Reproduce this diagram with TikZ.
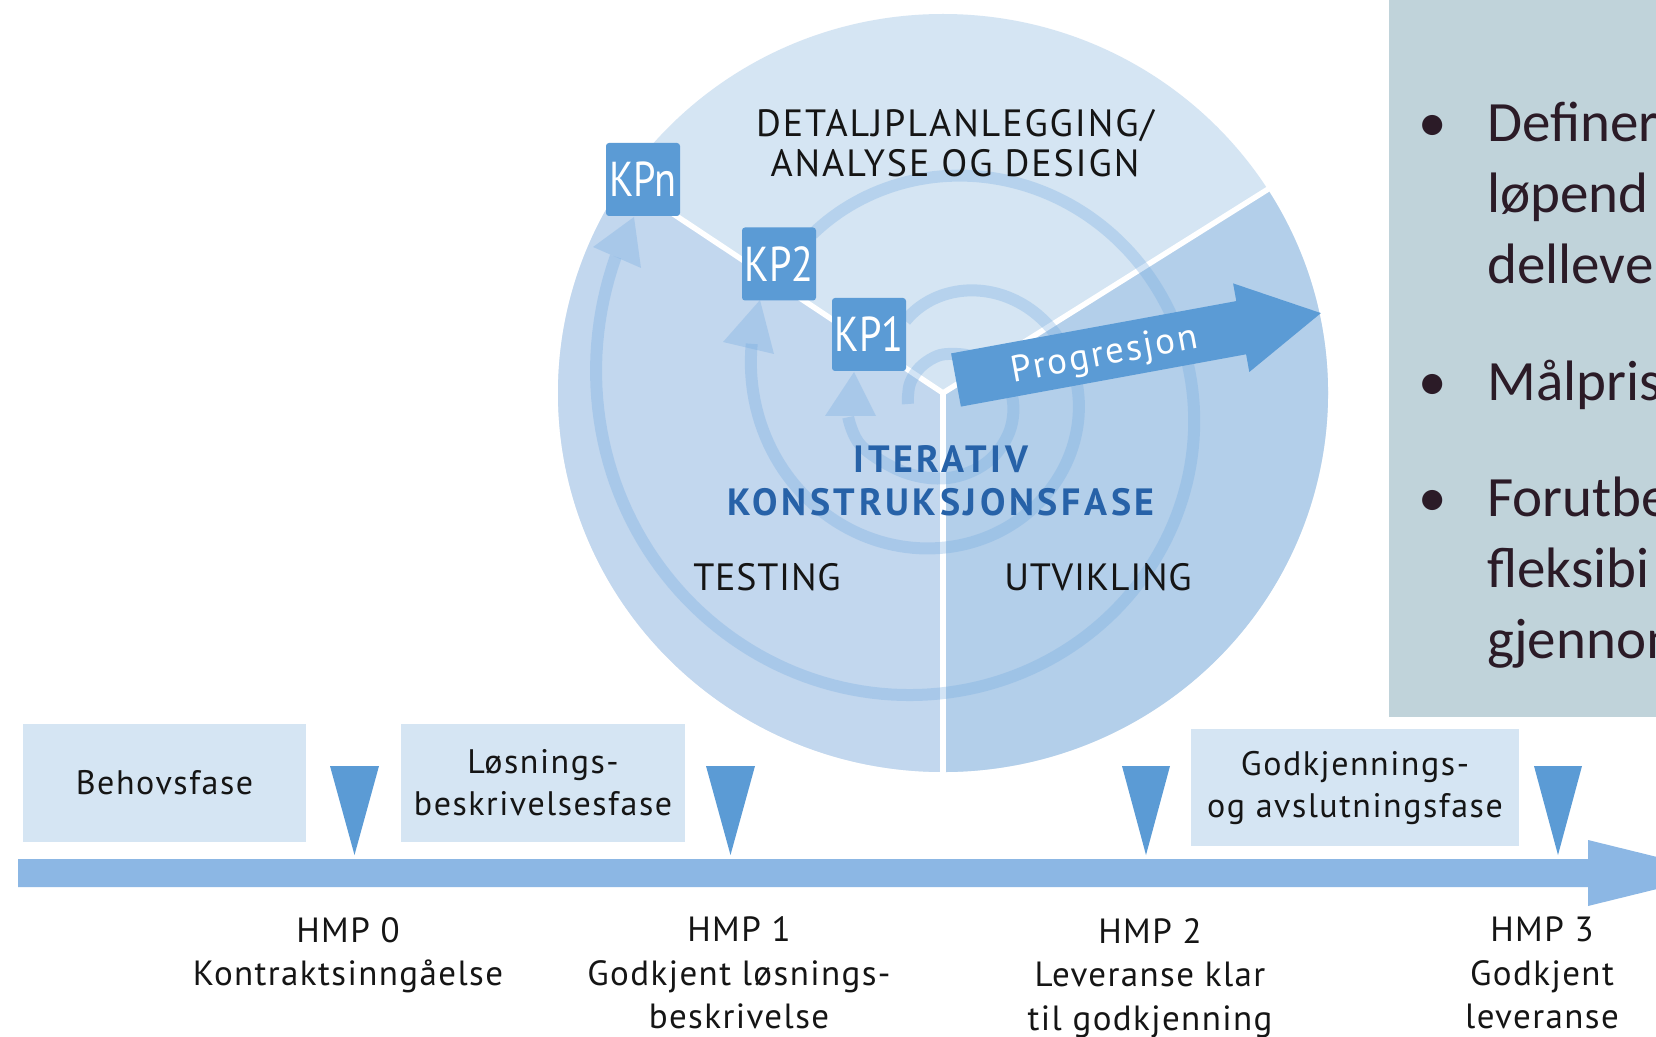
\documentclass[tikz,border=0pt]{standalone}
\usepackage{fontspec}
\setmainfont{PT Sans}
\newfontfamily\capsfont[LetterSpace=5]{PT Sans}
\newfontfamily\secfont[LetterSpace=2]{PT Sans}
\newfontfamily\iterfont[LetterSpace=9.5]{PT Sans}
\newfontfamily\phasefont[LetterSpace=4.5]{PT Sans}
\newfontfamily\hmpfont[LetterSpace=4]{PT Sans}
\newfontfamily\kpfont[FakeStretch=0.82]{PT Sans}
\newfontfamily\progfont[LetterSpace=6]{PT Sans}
\newfontfamily\calfont{Carlito}
\usetikzlibrary{arrows.meta}
\definecolor{secTop}{HTML}{D5E5F3}
\definecolor{secLeft}{HTML}{C2D7EE}
\definecolor{secRight}{HTML}{B3CFEA}
\definecolor{kpBlue}{HTML}{5B9BD5}
\definecolor{barBlue}{HTML}{8CB7E4}
\definecolor{boxFill}{HTML}{D5E5F3}
\definecolor{panelFill}{HTML}{C0D3DA}
\definecolor{iterBlue}{HTML}{2762A8}
\definecolor{spiralBlue}{HTML}{6FA8E0}
\definecolor{panelText}{HTML}{2B1B27}
\definecolor{txt}{HTML}{151515}
\tikzset{
  kpbox/.style={fill=kpBlue, rounded corners=1.5pt, minimum width=37pt, minimum height=36.5pt,
    inner sep=0pt, text=white, font=\kpfont\fontsize{24.5}{24.5}\selectfont},
  phasebox/.style={fill=boxFill, inner sep=0pt, align=center, text=txt,
    font=\phasefont\fontsize{17}{21}\selectfont},
  hmplabel/.style={inner sep=0pt, align=center, text=txt,
    font=\hmpfont\fontsize{17.5}{21.75}\selectfont},
  circlabel/.style={inner sep=0pt, align=center, text=txt,
    font=\capsfont\fontsize{19}{20}\selectfont},
  seclabel/.style={inner sep=0pt, text=txt, font=\secfont\fontsize{19}{20}\selectfont},
  iterlabel/.style={inner sep=0pt, align=center, text=iterBlue,
    font=\iterfont\bfseries\fontsize{19}{21.5}\selectfont},
  proglabel/.style={inner sep=0pt, text=white, font=\progfont\fontsize{18.5}{20}\selectfont},
  spiralline/.style={draw=spiralBlue, line width=6pt, opacity=0.3},
  spiralhead/.style={fill=spiralBlue, opacity=0.3},
  milestone/.style={fill=kpBlue},
  divider/.style={draw=white, line width=2.75pt, line cap=round},
  paneltext/.style={inner sep=0pt, anchor=base west, text=panelText,
    font=\calfont\fontsize{28.5}{35.5}\selectfont},
  panelbullet/.style={inner sep=0pt, anchor=base, text=panelText,
    font=\calfont\fontsize{28.5}{35.5}\selectfont},
}
\begin{document}
\begin{tikzpicture}[x=0.5pt, y=-0.5pt]
\useasboundingbox (0,0) rectangle (1656,1037);
\fill[white] (0,0) rectangle (1656,1037);
\begin{scope}
\clip (0,0) rectangle (1656,1037);

% ---------- right text panel ----------
\fill[panelFill] (1389,-5) rectangle (1665,717);
\node[panelbullet] (b1) at (1433,142) {•};
\node[paneltext] (t1a) at (1487,142) {Definer};
\node[paneltext] (t1b) at (1487,213) {løpend};
\node[paneltext] (t1c) at (1487,284) {delleve};
\node[panelbullet] (b2) at (1433,401) {•};
\node[paneltext] (t2a) at (1487,401) {Målpris};
\node[panelbullet] (b3) at (1433,517) {•};
\node[paneltext] (t3a) at (1487,517) {Forutbe};
\node[paneltext] (t3b) at (1487,588) {fleksibi};
\node[paneltext] (t3c) at (1487,659) {gjennom};

% ---------- circle ----------
\fill[secTop] (943,393) ellipse [x radius=385, y radius=379];
\fill[secLeft] (943,393) -- (943,772) arc[start angle=90, end angle=214, x radius=385, y radius=379] -- cycle;
\fill[secRight] (943,393) -- (1267.7,189.4) arc[start angle=-32.5, end angle=90, x radius=385, y radius=379] -- cycle;
\coordinate (hub) at (943,393);
\coordinate (rimS) at (943,772);
\coordinate (rimNW) at (623.8,181.1);
\coordinate (rimNE) at (1267.7,189.4);
\draw[divider] (hub) -- (rimS);
\draw[divider] (hub) -- (rimNW);
\draw[divider] (hub) -- (rimNE);

% ---------- spiral ----------
\draw[spiralline] plot[smooth, tension=0.6] coordinates {(908,404) (908,396) (910.4,382.3) (919.7,367.7) (934,357.5) (948,354) (971,356.2) (994.8,369) (1012,396) (1009.5,431.5) (986.5,462.7) (948,478) (904,472.2) (861.4,446) (848.2,417.2)};
\draw[spiralline] plot[domain=235:551.6, samples=140, variable=\t] ({950+(91.5+0.394*(\t-270))*cos(\t)}, {384.5+(91.5+0.394*(\t-270))*sin(\t)});
\draw[spiralline] plot[domain=233:563.6, samples=180, variable=\t] ({934.5+(219+0.439*(\t-270))*cos(\t)}, {396+(219+0.439*(\t-270))*sin(\t)});
\fill[spiralhead] (825,416) -- (854,372) -- (876,416) -- cycle;
\fill[spiralhead] (723,342) -- (760,300) -- (774,354) -- cycle;
\fill[spiralhead] (593,247) -- (634,217) -- (641,268) -- cycle;

% ---------- control points ----------
\node[kpbox] (kpn) at (643,179.5) {KPn};
\node[kpbox] (kp2) at (779,264) {KP2};
\node[kpbox] (kp1) at (869,334.5) {KP1};

% ---------- progression arrow ----------
\fill[kpBlue] (951.1,353.4) -- (1236.3,301.1) -- (1233.1,283.4) -- (1320.9,313.1)
  -- (1249.3,372.0) -- (1246.1,354.3) -- (960.9,406.6) -- cycle;
\node[proglabel, rotate=10.4] (prog) at (1105,356) {Progresjon};

% ---------- circle labels ----------
\node[circlabel] (detalj) at (955,143.5) {DETALJPLANLEGGING/\\ANALYSE OG DESIGN};
\node[iterlabel] (iter) at (941,481) {ITERATIV\\KONSTRUKSJONSFASE};
\node[seclabel] (testing) at (767,577) {TESTING};
\node[seclabel] (utvikling) at (1098,577) {UTVIKLING};

% ---------- timeline ----------
\fill[barBlue] (18,859) -- (1588,859) -- (1588,840) -- (1722,873) -- (1588,906) -- (1588,887) -- (18,887) -- cycle;
\node[phasebox, minimum width=141.5pt, minimum height=59pt] (behov) at (164.5,783) {Behovsfase};
\node[phasebox, minimum width=142pt, minimum height=59pt] (losning) at (543,783) {Løsnings-\\beskrivelsesfase};
\node[phasebox, minimum width=164pt, minimum height=58.5pt] (godkj) at (1355,787.5) {Godkjennings-\\og avslutningsfase};
\fill[milestone] (330,766) -- (379,766) -- (354.5,855) -- cycle;
\fill[milestone] (706,766) -- (755,766) -- (730.5,855) -- cycle;
\fill[milestone] (1122,766) -- (1170,766) -- (1146,855) -- cycle;
\fill[milestone] (1534,766) -- (1582,766) -- (1558,855) -- cycle;
\node[hmplabel] (hmp0) at (348,955) {HMP 0\\Kontraktsinngåelse};
\node[hmplabel] (hmp1) at (739,973) {HMP 1\\Godkjent løsnings-\\beskrivelse};
\node[hmplabel] (hmp2) at (1150,978) {HMP 2\\Leveranse klar\\til godkjenning};
\node[hmplabel] (hmp3) at (1542,973) {HMP 3\\Godkjent\\leveranse};
\end{scope}
\end{tikzpicture}
\end{document}
